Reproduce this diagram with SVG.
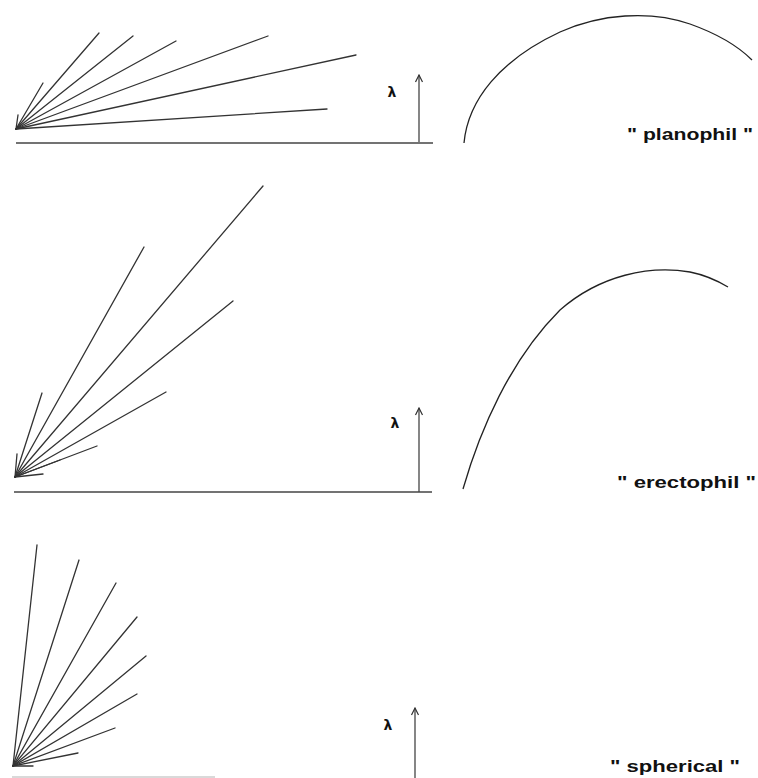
<svg xmlns="http://www.w3.org/2000/svg" width="758" height="778" viewBox="0 0 758 778">
<defs>
<marker id="arr" markerWidth="10" markerHeight="10" refX="9" refY="5" orient="auto" markerUnits="userSpaceOnUse" viewBox="0 0 10 10">
<path d="M2,1.5 L9,5 L2,8.5" fill="none" stroke="#333" stroke-width="1.2"/>
</marker>
</defs>
<style>
.ray{stroke:#333;stroke-width:1.3;fill:none;stroke-linecap:round}
.base{stroke:#444;stroke-width:1.4;fill:none}
.axis{stroke:#444;stroke-width:1.3;fill:none}
.curve{stroke:#222;stroke-width:1.3;fill:none}
.lab{font-family:"Liberation Sans",Arial,sans-serif;font-weight:bold;font-size:17px;fill:#111}
.lam{font-family:"DejaVu Sans","Liberation Sans",sans-serif;font-weight:bold;font-size:14px;fill:#111}
</style>
<rect width="758" height="778" fill="#fff"/>

<g id="planophil">
<g id="fan1">
<line class="ray" x1="16" y1="129" x2="43" y2="83"/>
<line class="ray" x1="16" y1="129" x2="99" y2="33"/>
<line class="ray" x1="16" y1="129" x2="133" y2="36"/>
<line class="ray" x1="16" y1="129" x2="176" y2="41"/>
<line class="ray" x1="16" y1="129" x2="268" y2="36"/>
<line class="ray" x1="16" y1="129" x2="356" y2="55"/>
<line class="ray" x1="16" y1="129" x2="327" y2="109"/>
<line class="ray" x1="16" y1="129" x2="18" y2="115"/>
</g>
<line class="base" x1="16" y1="143" x2="433" y2="143"/>
<line class="axis" x1="419" y1="142" x2="419" y2="75" marker-end="url(#arr)"/>
<text class="lam" x="392" y="97" text-anchor="middle">λ</text>
<path class="curve" d="M464,143 C468,100 500,60 560,32 C600,14 650,10 690,24 C718,34 738,46 752,60"/>
<text class="lab" x="627" y="140" textLength="126" lengthAdjust="spacingAndGlyphs">" planophil "</text>
</g>

<g id="erectophil">
<g id="fan2">
<line class="ray" x1="15" y1="477" x2="42" y2="393"/>
<line class="ray" x1="15" y1="477" x2="144" y2="247"/>
<line class="ray" x1="15" y1="477" x2="263" y2="186"/>
<line class="ray" x1="15" y1="477" x2="233" y2="301"/>
<line class="ray" x1="15" y1="477" x2="166" y2="392"/>
<line class="ray" x1="15" y1="477" x2="97" y2="446"/>
<line class="ray" x1="15" y1="477" x2="60" y2="460"/>
<line class="ray" x1="15" y1="477" x2="43" y2="474"/>
<line class="ray" x1="15" y1="477" x2="17" y2="454"/>
</g>
<line class="base" x1="14" y1="492" x2="432" y2="492"/>
<line class="axis" x1="419" y1="492" x2="419" y2="408" marker-end="url(#arr)"/>
<text class="lam" x="395" y="428" text-anchor="middle">λ</text>
<path class="curve" d="M463,489 C480,430 510,360 560,310 C600,275 650,265 690,272 C705,275 718,281 728,287"/>
<text class="lab" x="617" y="488" textLength="139" lengthAdjust="spacingAndGlyphs">" erectophil "</text>
</g>

<g id="spherical">
<g id="fan3">
<line class="ray" x1="13" y1="766" x2="37" y2="545"/>
<line class="ray" x1="13" y1="766" x2="79" y2="560"/>
<line class="ray" x1="13" y1="766" x2="116" y2="583"/>
<line class="ray" x1="13" y1="766" x2="137" y2="617"/>
<line class="ray" x1="13" y1="766" x2="146" y2="656"/>
<line class="ray" x1="13" y1="766" x2="137" y2="694"/>
<line class="ray" x1="13" y1="766" x2="115" y2="728"/>
<line class="ray" x1="13" y1="766" x2="78" y2="753"/>
<line class="ray" x1="13" y1="766" x2="33" y2="766"/>
</g>
<line x1="12" y1="777" x2="215" y2="777" stroke="#ccc" stroke-width="1.4"/>
<line class="axis" x1="415" y1="778" x2="415" y2="708" marker-end="url(#arr)"/>
<text class="lam" x="388" y="730" text-anchor="middle">λ</text>
<text class="lab" x="610" y="772" textLength="130" lengthAdjust="spacingAndGlyphs">" spherical "</text>
</g>
</svg>
